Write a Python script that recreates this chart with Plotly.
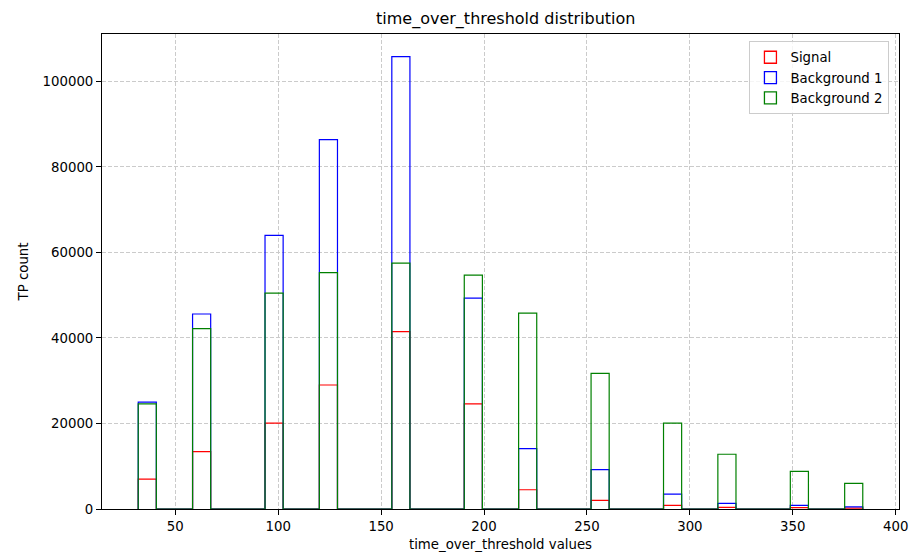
import plotly.graph_objects as go

# Histogram binning (40 bins between 32 and 384); only occupied bins are listed
bin_min = 32.0
bin_max = 384.0
n_bins = 40
occupied_bins = [0, 3, 7, 10, 14, 18, 21, 25, 29, 32, 36, 39]

# Counts per occupied bin
signal = [7000, 13400, 20100, 29000, 41500, 24600, 4500, 2000, 850, 400, 300, 200]
background1 = [25000, 45600, 64000, 86400, 105800, 49300, 14100, 9200, 3500, 1300, 850, 500]
background2 = [24600, 42200, 50500, 55300, 57500, 54700, 45800, 31700, 20100, 12800, 8800, 6000]

series_names = ["Signal", "Background 1", "Background 2"]
series_values = [signal, background1, background2]
series_colors = ["red", "blue", "green"]

x_ticks = [50, 100, 150, 200, 250, 300, 350, 400]
y_ticks = [0, 20000, 40000, 60000, 80000, 100000]

bw = (bin_max - bin_min) / n_bins
edges = [bin_min + k * bw for k in range(n_bins + 1)]


def step_outline(vals):
    counts = [0] * n_bins
    for k, v in zip(occupied_bins, vals):
        counts[k] = v
    xs, ys = [edges[0]], [0]
    for i in range(n_bins):
        xs += [edges[i], edges[i + 1]]
        ys += [counts[i], counts[i]]
    xs.append(edges[-1])
    ys.append(0)
    return xs, ys


fig = go.Figure()
for name, vals, col in zip(series_names, series_values, series_colors):
    xs, ys = step_outline(vals)
    fig.add_trace(go.Scatter(
        x=xs, y=ys, mode="lines", name=name, fill="toself", legendgroup=name,
        fillcolor="rgba(0,0,0,0)", line=dict(color=col, width=1.2),
        hoverinfo="skip", showlegend=False,
    ))

# Legend entries drawn as outlined patches (like the histogram step patches)
for name, col in zip(series_names, series_colors):
    fig.add_trace(go.Bar(
        x=[None], y=[None], name=name, legendgroup=name,
        marker=dict(color="rgba(0,0,0,0)", line=dict(color=col, width=1.3)),
    ))

span = bin_max - bin_min
ymax = max(max(v) for v in series_values) * 1.05

axis_common = dict(
    showline=True, mirror=True, linecolor="black", linewidth=1,
    ticks="outside", ticklen=5, tickcolor="black", tickwidth=1,
    showgrid=True, gridcolor="#cbcbcb", griddash="4px,2px", gridwidth=1,
    zeroline=False, tickfont=dict(size=13.3, color="black"), automargin=False,
    layer="above traces",
)

# The page body adds an 8px offset, so the figure is sized to fit the 923x556 window
W, H, OFF = 923, 556, 8
fig.update_layout(
    width=W - OFF, height=H - OFF,
    margin=dict(l=102 - OFF, r=24, t=34 - OFF, b=47),
    paper_bgcolor="white", plot_bgcolor="white",
    font=dict(family="DejaVu Sans", color="black"),
    title=dict(text="time_over_threshold distribution", x=0.544, xanchor="center",
               y=1 - (18 - OFF) / (H - OFF), yanchor="middle", yref="container",
               font=dict(size=16, color="black")),
    xaxis=dict(type="linear", range=[bin_min - 0.05 * span, bin_max + 0.05 * span],
               tickvals=x_ticks,
               title=dict(text="time_over_threshold values", font=dict(size=13.3), standoff=6),
               **axis_common),
    yaxis=dict(type="linear", range=[0, ymax], tickvals=y_ticks, tickformat="d",
               title=dict(text="TP count", font=dict(size=13.3), standoff=10),
               **axis_common),
    legend=dict(x=0.988, xanchor="right", y=0.985, yanchor="top", tracegroupgap=0,
                bgcolor="rgba(255,255,255,0.8)", bordercolor="#cccccc", borderwidth=1,
                font=dict(size=13.3, color="black")),
)

fig.write_html("out.html")
